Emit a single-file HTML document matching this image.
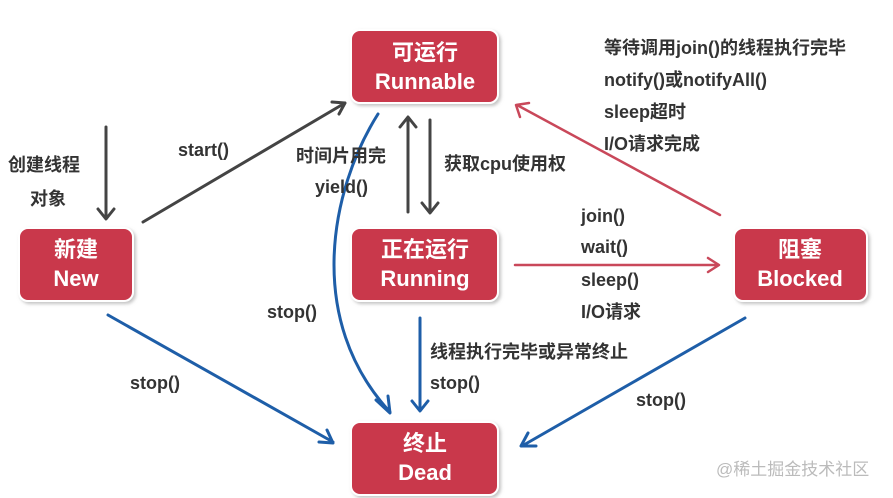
<!DOCTYPE html>
<html><head><meta charset="utf-8"><style>
html,body{margin:0;padding:0;background:#fff;}
svg{display:block;}
text{font-family:"Liberation Sans","Noto Sans CJK SC",sans-serif;font-weight:bold;}
.lb{fill:#333;font-size:18px;}
.bx{fill:#fff;font-size:22px;text-anchor:middle;}
</style></head><body>
<svg width="893" height="498" viewBox="0 0 893 498" xmlns="http://www.w3.org/2000/svg">
<defs>
<filter id="sh" x="-10%" y="-10%" width="130%" height="130%"><feDropShadow dx="2" dy="2" stdDeviation="1.5" flood-color="#888" flood-opacity="0.5"/></filter>
</defs>
<g fill="#c9374b" stroke="#fff" stroke-width="2" filter="url(#sh)">
<rect x="351" y="30" width="147" height="73" rx="9"/>
<rect x="19" y="228" width="114" height="73" rx="9"/>
<rect x="351" y="228" width="147" height="73" rx="9"/>
<rect x="734" y="228" width="133" height="73" rx="9"/>
<rect x="351" y="422" width="147" height="73" rx="9"/>
</g>
<text class="bx" x="425" y="60">可运行</text><text class="bx" x="425" y="89">Runnable</text>
<text class="bx" x="76" y="257">新建</text><text class="bx" x="76" y="286">New</text>
<text class="bx" x="425" y="257">正在运行</text><text class="bx" x="425" y="286">Running</text>
<text class="bx" x="800" y="257">阻塞</text><text class="bx" x="800" y="286">Blocked</text>
<text class="bx" x="425" y="451">终止</text><text class="bx" x="425" y="480">Dead</text>

<g fill="none" stroke-width="3" stroke-linecap="round" stroke-linejoin="round">
<g stroke="#444">
<path d="M106 127 L106 218 M98 209 L106 219 L114 209"/>
<path d="M143 222 L345 103 M332 102 L345 103 L339 114"/>
<path d="M408 212 L408 118 M400 127 L408 117 L416 127"/>
<path d="M430 120 L430 212 M422 203 L430 213 L438 203"/>
</g>
<g stroke="#c9485a" stroke-width="2.5">
<path d="M515 265 L718 265 M708 258 L719 265 L708 272"/>
<path d="M720 215 L517 105 M520 117 L516 105 L529 103"/>
</g>
<g stroke="#1e5ea8">
<path d="M378 114 C 330 190, 305 320, 390 412 M376 400 L390 413 L388 396"/>
<path d="M420 318 L420 410 M412 401 L420 411 L428 401"/>
<path d="M108 315 L333 442 M319 442 L333 443 L327 430"/>
<path d="M745 318 L522 446 M528 433 L521 446 L536 446"/>
</g>
</g>

<text class="lb" x="8" y="171">创建线程</text>
<text class="lb" x="30" y="205">对象</text>
<text class="lb" x="178" y="156">start()</text>
<text class="lb" x="296" y="162">时间片用完</text>
<text class="lb" x="315" y="193">yield()</text>
<text class="lb" x="444" y="170">获取cpu使用权</text>
<text class="lb" x="604" y="54">等待调用join()的线程执行完毕</text>
<text class="lb" x="604" y="86">notify()或notifyAll()</text>
<text class="lb" x="604" y="118">sleep超时</text>
<text class="lb" x="604" y="150">I/O请求完成</text>
<text class="lb" x="581" y="222">join()</text>
<text class="lb" x="581" y="253">wait()</text>
<text class="lb" x="581" y="286">sleep()</text>
<text class="lb" x="581" y="318">I/O请求</text>
<text class="lb" x="267" y="318">stop()</text>
<text class="lb" x="430" y="358">线程执行完毕或异常终止</text>
<text class="lb" x="430" y="389">stop()</text>
<text class="lb" x="130" y="389">stop()</text>
<text class="lb" x="636" y="406">stop()</text>
<text x="716" y="475" style="fill:#bbb;font-size:17px;font-weight:normal">@稀土掘金技术社区</text>
</svg>
</body></html>
